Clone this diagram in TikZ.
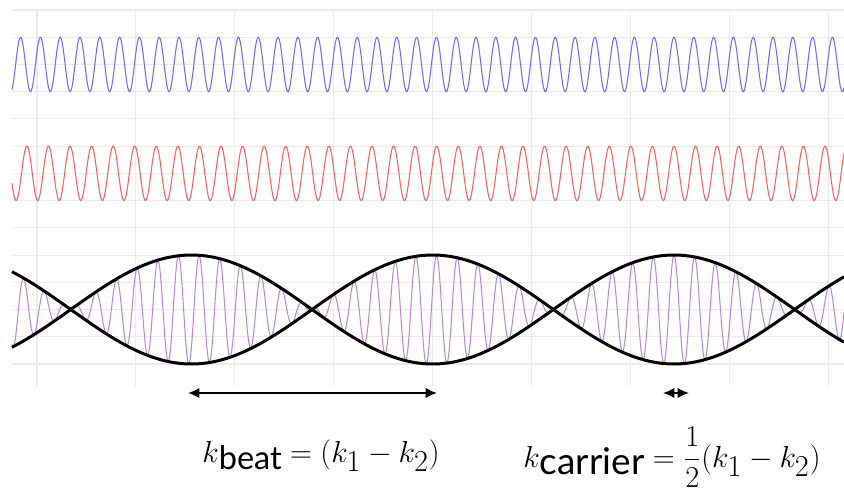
\documentclass[tikz,border=0pt]{standalone}
\usepackage{fontspec}
\setsansfont{Lato}
\usepackage{amsmath}
\usetikzlibrary{arrows.meta}
\definecolor{gridgray}{HTML}{EBEBEB}
\definecolor{waveblue}{HTML}{6A6AFF}
\definecolor{wavered}{HTML}{FF5C5C}
\definecolor{wavepurple}{HTML}{BE84DC}
\newcommand{\subsf}[2]{\lower4pt\hbox{\fontsize{#1}{#1}\selectfont\sffamily #2}}
\newcommand{\subbig}[1]{_{\textstyle #1}}

\begin{document}
\begin{tikzpicture}[x=0.02cm, y=-0.02cm,
  gridline/.style={gridgray, line width=0.6pt},
  wave/.style={line width=0.6pt, domain=12:844, samples=1100},
  envelope/.style={black, line width=1.7pt, domain=12:844, samples=240},
  span/.style={{Latex[length=6.5pt,width=6pt]}-{Latex[length=6.5pt,width=6pt]},
    black, line width=1.1pt},
  lbl/.style={anchor=base, font=\fontsize{17.28}{21}\selectfont}
]
  \useasboundingbox (0,0) rectangle (844,493);
  % grid
  \foreach \r in {0,...,13}
    \draw[gridline] (12,{10+27.23*\r}) -- (844,{10+27.23*\r});
  \foreach \c in {0,...,8}
    \draw[gridline] ({37+98.9*\c},10) -- ({37+98.9*\c},386);

  % the two waves
  \draw[wave, waveblue] plot (\x, {64.5-27.2*cos((\x-674)/19.8*360)});
  \draw[wave, wavered] plot (\x, {173.4-27.2*cos((\x-674)/21.57*360)});

  % their sum and its envelope
  \draw[wave, wavepurple] plot (\x, {309.5-27.2*(cos((\x-674)/19.8*360)+cos((\x-674)/21.57*360))});
  \draw[envelope] plot (\x, {309.5-54.5*cos((\x-674)/241.3*180)});
  \draw[envelope] plot (\x, {309.5+54.5*cos((\x-674)/241.3*180)});

  % spans
  \coordinate (beatL) at (188,393);
  \coordinate (beatR) at (437,393);
  \coordinate (carL) at (663,393);
  \coordinate (carR) at (689,393);
  \draw[span] (beatL) -- (beatR);
  \draw[span] (carL) -- (carR);

  \node[lbl] (beat) at (321,462) {$k\subsf{18.5}{beat} = (k\subbig{1} - k\subbig{2})$};
  \node[lbl] (carrier) at (672,467) {$k\subsf{21}{carrier} = \dfrac{1}{2}(k\subbig{1} - k\subbig{2})$};
\end{tikzpicture}
\end{document}
